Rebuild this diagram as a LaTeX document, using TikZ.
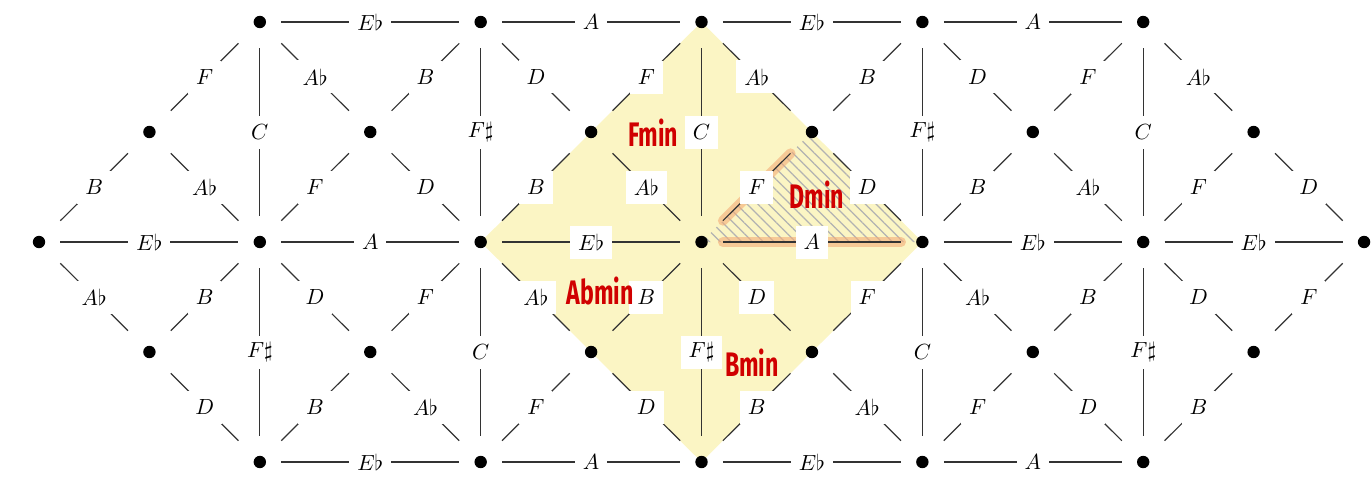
\documentclass[tikz,border=0pt]{standalone}
\usepackage{amsmath}
\usepackage{amssymb}
\usepackage{graphicx}
\usepackage{fontspec}
\usetikzlibrary{patterns.meta,backgrounds}
\newfontfamily\handfont{Fira Sans}
\definecolor{chordyellow}{RGB}{251,245,196}
\definecolor{hilite}{RGB}{244,172,120}
\definecolor{inkred}{RGB}{208,0,0}
\newcommand{\Hand}[1]{\scalebox{0.68}[1]{#1}}

\begin{document}
\begin{tikzpicture}[x=55.21pt,y=55pt,
  vtx/.style={rectangle,inner sep=0pt,minimum width=21pt,minimum height=26pt,
    path picture={\fill[black] (path picture bounding box.center) circle (3.1pt);}},
  link/.style={draw=black!80,line width=0.6pt},
  lbl/.style={fill=white,inner xsep=4pt,inner ysep=2pt,minimum height=16.5pt,
    font=\fontsize{11}{13}\selectfont},
  hl/.style={draw=hilite,line width=5pt,line cap=round,opacity=0.6},
  chord/.style={font=\handfont\bfseries\fontsize{17}{19}\selectfont,text=inkred,inner sep=0pt}]
\useasboundingbox (-0.3532,-2.1455) rectangle (12.072,2.2);
% lattice points
\foreach \i in {2,4,...,10} \node[vtx] (a\i) at (\i,2) {};
\foreach \i in {1,3,...,11} \node[vtx] (b\i) at (\i,1) {};
\foreach \i in {0,2,...,12} \node[vtx] (c\i) at (\i,0) {};
\foreach \i in {1,3,...,11} \node[vtx] (d\i) at (\i,-1) {};
\foreach \i in {2,4,...,10} \node[vtx] (e\i) at (\i,-2) {};
% rows and columns
\foreach \p/\q/\l in {a2/a4/E\flat,a4/a6/A,a6/a8/E\flat,a8/a10/A,
    c0/c2/E\flat,c2/c4/A,c4/c6/E\flat,c6/c8/A,c8/c10/E\flat,c10/c12/E\flat,
    e2/e4/E\flat,e4/e6/A,e6/e8/E\flat,e8/e10/A,
    a2/c2/C,a4/c4/F\sharp,a6/c6/C,a8/c8/F\sharp,a10/c10/C,
    c2/e2/F\sharp,c4/e4/C,c6/e6/F\sharp,c8/e8/C,c10/e10/F\sharp}
  \draw[link] (\p) -- node[lbl] {$\l$} (\q);
% upper diagonals
\foreach \p/\q/\l in {c0/b1/B,b1/a2/F,b1/c2/A\flat,a2/b3/A\flat,c2/b3/F,
    b3/a4/B,b3/c4/D,a4/b5/D,c4/b5/B,b5/a6/F,b5/c6/A\flat,a6/b7/A\flat,
    c6/b7/F,b7/a8/B,b7/c8/D,a8/b9/D,c8/b9/B,b9/a10/F,b9/c10/A\flat,
    a10/b11/A\flat,c10/b11/F,b11/c12/D}
  \draw[link] (\p) -- node[lbl] {$\l$} (\q);
% lower diagonals
\foreach \p/\q/\l in {c0/d1/A\flat,d1/c2/B,d1/e2/D,c2/d3/D,e2/d3/B,
    d3/c4/F,d3/e4/A\flat,c4/d5/A\flat,e4/d5/F,d5/c6/B,d5/e6/D,c6/d7/D,
    e6/d7/B,d7/c8/F,d7/e8/A\flat,c8/d9/A\flat,e8/d9/F,d9/c10/B,d9/e10/D,
    c10/d11/D,e10/d11/B,d11/c12/F}
  \draw[link] (\p) -- node[lbl] {$\l$} (\q);
% marked region
\begin{scope}[on background layer]
\fill[chordyellow] (a6.center) -- (c4.center) -- (e6.center) -- (c8.center) -- cycle;
\fill[pattern={Lines[angle=-45,distance=3.8pt,line width=0.6pt]},pattern color=gray!60]
  (c6.center) -- (b7.center) -- (c8.center) -- cycle;
\draw[hl] (c6) -- (b7);
\draw[hl] (c6) -- (c8);
\end{scope}
% chord names
\node[chord] (fmin) at (5.561,0.995) {\Hand{Fmin}};
\node[chord] (dmin) at (7.046,0.427) {\Hand{Dmin}};
\node[chord] (abmin) at (5.081,-0.445) {\Hand{Abmin}};
\node[chord] (bmin) at (6.457,-1.100) {\Hand{Bmin}};
\end{tikzpicture}
\end{document}
